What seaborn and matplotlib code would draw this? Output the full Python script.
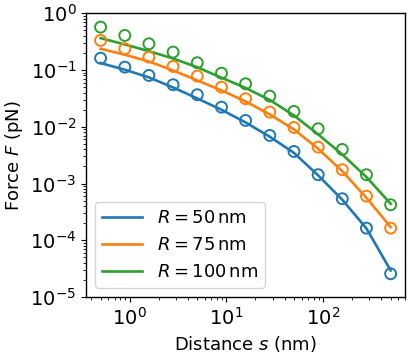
import matplotlib
matplotlib.use("Agg")
import matplotlib.pyplot as plt
import numpy as np
import pandas as pd
import seaborn as sns

# distances (nm) where the force was sampled
distance = [0.5, 0.89, 1.58, 2.81, 5.0, 8.9, 15.8, 28.1, 50.0, 89.0, 158.0, 281.0, 500.0]
radii = ["50", "75", "100"]

# fitted curves (pN)
fit_50 = [0.132, 0.101, 0.0738, 0.0492, 0.0315, 0.0199, 0.0119, 0.00667, 0.00346,
          0.00139, 0.000519, 0.000162, 0.0000295]
fit_75 = [0.236, 0.185, 0.141, 0.098, 0.0653, 0.0436, 0.0279, 0.01646, 0.00897,
          0.0041, 0.00165, 0.000562, 0.000171]
fit_100 = [0.363, 0.281, 0.214, 0.159, 0.1115, 0.0729, 0.0482, 0.0296, 0.0158,
           0.00732, 0.00325, 0.0013, 0.000441]

# simulated points (pN)
sim_50 = [0.161, 0.112, 0.080, 0.0549, 0.0366, 0.0221, 0.0129, 0.00703, 0.00367,
          0.00143, 0.00054, 0.000164, 0.0000258]
sim_75 = [0.331, 0.236, 0.168, 0.1152, 0.0778, 0.0498, 0.0311, 0.0181, 0.0097,
          0.00437, 0.00175, 0.0006, 0.000164]
sim_100 = [0.567, 0.405, 0.289, 0.206, 0.134, 0.0878, 0.0571, 0.0346, 0.0186,
           0.00922, 0.00398, 0.00143, 0.000423]

colors = ["#1f77b4", "#ff7f0e", "#2ca02c"]

fit = pd.DataFrame({
    "s": distance * 3,
    "F": fit_50 + fit_75 + fit_100,
    "R": sum([[r] * len(distance) for r in radii], []),
})
sim = pd.DataFrame({
    "s": distance * 3,
    "F": sim_50 + sim_75 + sim_100,
    "R": sum([[r] * len(distance) for r in radii], []),
})

plt.rcParams["font.size"] = 13
plt.rcParams["mathtext.fontset"] = "dejavusans"
plt.rcParams["axes.linewidth"] = 1.0

fig = plt.figure(figsize=(4.08, 3.55), dpi=100)
ax = fig.add_axes([0.211, 0.163, 0.782, 0.8])

sns.lineplot(data=fit, x="s", y="F", hue="R", palette=colors, lw=1.9,
             ax=ax, legend=False)
sns.scatterplot(data=sim, x="s", y="F", hue="R", palette=colors, s=62,
                linewidth=1.4, ax=ax, legend=False, zorder=3)
# hollow circles
for coll in ax.collections:
    fc = coll.get_facecolors()
    coll.set_edgecolors(fc)
    coll.set_facecolors("none")

ax.set_xscale("log")
ax.set_yscale("log")
ax.set_ylim(1e-5, 1)
ax.set_xlabel(r"Distance $s$ (nm)", fontsize=13)
ax.set_ylabel(r"Force $F$ (pN)", fontsize=13)
ax.tick_params(which="major", labelsize=14)

handles = ax.get_lines()[:3]
ax.legend(handles, [rf"$R = {r}\,\mathrm{{nm}}$" for r in radii],
          loc="lower left", fontsize=13, handlelength=2.2)

fig.savefig("out.png", dpi=100)
